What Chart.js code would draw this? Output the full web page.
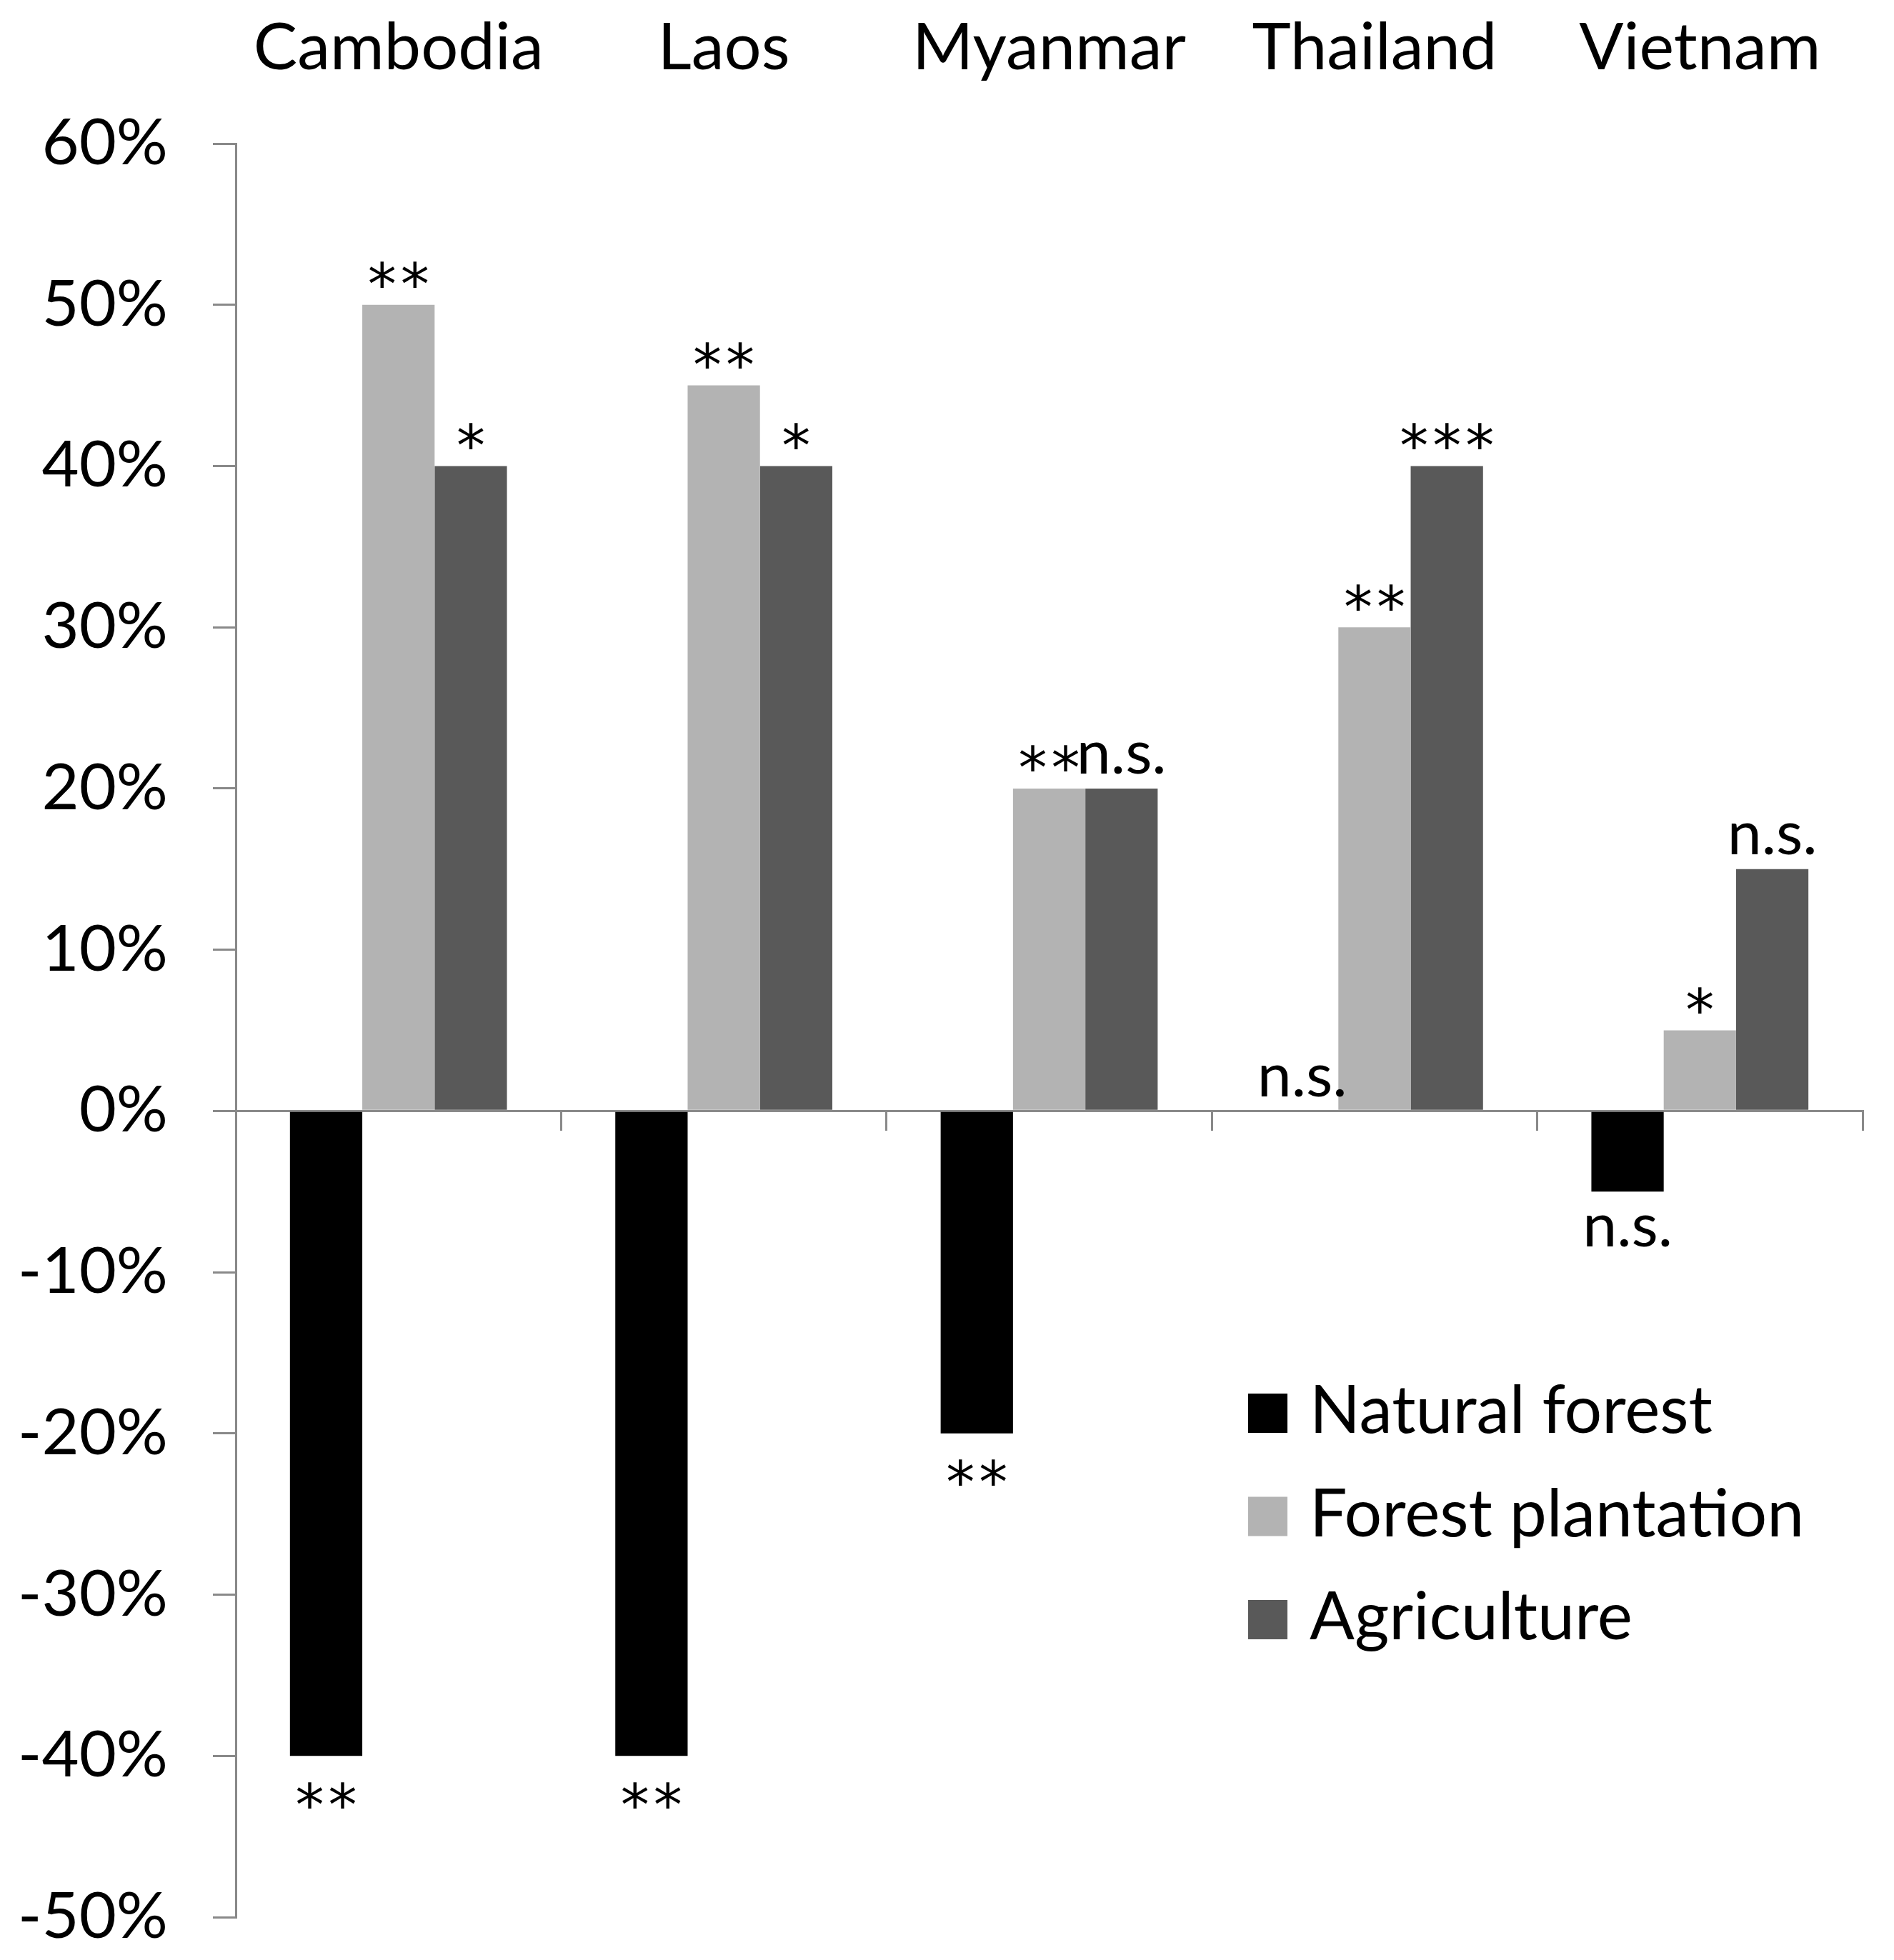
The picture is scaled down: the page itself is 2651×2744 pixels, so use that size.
<!DOCTYPE html>
<html>
<head>
<meta charset="utf-8">
<script src="https://cdn.jsdelivr.net/npm/chart.js@4.4.1/dist/chart.umd.min.js"></script>
<style>
html,body{margin:0;padding:0;background:#ffffff;}
#wrap{width:2651px;height:2744px;position:relative;}
</style>
</head>
<body>
<div id="wrap"><canvas id="c"></canvas></div>
<script>
// ---- data ----
const categories = ['Cambodia', 'Laos', 'Myanmar', 'Thailand', 'Vietnam'];
const seriesNames = ['Natural forest', 'Forest plantation', 'Agriculture'];
const naturalForest = [-40, -40, -20, 0, -5];
const forestPlantation = [50, 45, 20, 30, 5];
const agriculture = [40, 40, 20, 40, 15];
const sigNatural = ['**', '**', '**', 'n.s.', 'n.s.'];
const sigPlantation = ['**', '**', '**', '**', '*'];
const sigAgriculture = ['*', '*', 'n.s.', '***', 'n.s.'];
const yMin = -50, yMax = 60, yStep = 10;

// ---- styles ----
const FONT = 'Lato';
const STAR_FONT = '"DejaVu Sans"';
const AXIS_COLOR = '#898989';
const COLORS = ['#000000', '#b3b3b3', '#595959'];

const annotPlugin = {
  id: 'annot',
  afterDatasetsDraw(chart, args, opts) {
    const ctx = chart.ctx;
    ctx.save();
    ctx.fillStyle = '#000';
    ctx.textAlign = 'center';
    ctx.textBaseline = 'alphabetic';
    ctx.font = opts.size + 'px ' + FONT;
    const xh = ctx.measureText('x').actualBoundingBoxAscent;
    chart.data.datasets.forEach((ds, di) => {
      const meta = chart.getDatasetMeta(di);
      meta.data.forEach((bar, i) => {
        const text = ds.sig[i];
        const v = ds.data[i];
        const bandCenter = v >= 0 ? bar.y - opts.above : bar.y + opts.below;
        let y;
        if (/^\*+$/.test(text)) {
          ctx.font = opts.starSize + 'px ' + STAR_FONT;
          if ('letterSpacing' in ctx) ctx.letterSpacing = opts.starSpacing + 'px';
          const m = ctx.measureText(text);
          y = bandCenter + (m.actualBoundingBoxAscent - m.actualBoundingBoxDescent) / 2;
          ctx.fillText(text, bar.x + opts.starSpacing / 2, y);
          if ('letterSpacing' in ctx) ctx.letterSpacing = '0px';
        } else {
          ctx.font = opts.size + 'px ' + FONT;
          y = bandCenter + xh / 2;
          ctx.fillText(text, bar.x, y);
        }
      });
    });
    ctx.restore();
  }
};

const legendPlugin = {
  id: 'boxLegend',
  afterDraw(chart, args, opts) {
    const ctx = chart.ctx;
    ctx.save();
    ctx.font = opts.size + 'px ' + FONT;
    ctx.textAlign = 'left';
    ctx.textBaseline = 'alphabetic';
    chart.data.datasets.forEach((ds, i) => {
      const top = opts.top + i * opts.row;
      ctx.fillStyle = ds.backgroundColor;
      ctx.fillRect(opts.left, top, opts.box, opts.box);
      ctx.fillStyle = '#000';
      ctx.fillText(ds.label, opts.left + opts.box + opts.gap, top + opts.box);
    });
    ctx.restore();
  }
};

function draw() {
  new Chart(document.getElementById('c'), {
    type: 'bar',
    data: {
      labels: categories,
      datasets: [
        { label: seriesNames[0], data: naturalForest, backgroundColor: COLORS[0], sig: sigNatural },
        { label: seriesNames[1], data: forestPlantation, backgroundColor: COLORS[1], sig: sigPlantation },
        { label: seriesNames[2], data: agriculture, backgroundColor: COLORS[2], sig: sigAgriculture }
      ]
    },
    options: {
      responsive: true,
      maintainAspectRatio: false,
      animation: false,
      devicePixelRatio: 1,
      layout: { padding: { left: 0, right: 44, top: 0, bottom: 60 } },
      datasets: { bar: { categoryPercentage: 0.667, barPercentage: 1.0, borderWidth: 0 } },
      plugins: {
        legend: { display: false },
        tooltip: { enabled: false },
        annot: { size: 86, starSize: 80, starSpacing: 6, above: 42, below: 55 },
        boxLegend: { size: 93, left: 1747, top: 1951, box: 55, gap: 31, row: 144.5 }
      },
      scales: {
        x: {
          type: 'category',
          position: { y: 0 },
          offset: true,
          grid: { offset: true, drawOnChartArea: false, drawTicks: true, tickLength: 26, color: AXIS_COLOR, lineWidth: 3 },
          border: { color: AXIS_COLOR, width: 3 },
          ticks: { display: false },
          afterFit: s => { s.height = 0; }
        },
        x2: {
          type: 'category',
          position: 'top',
          labels: categories,
          offset: true,
          grid: { display: false, drawTicks: false },
          border: { display: false },
          ticks: { font: { family: FONT, size: 92 }, color: '#000', padding: 78, maxRotation: 0, autoSkip: false },
          afterFit: s => { s.height = 201; }
        },
        y: {
          min: yMin,
          max: yMax,
          ticks: { stepSize: yStep, callback: v => v + '%', font: { family: FONT, size: 90 }, color: '#000', padding: 63 },
          grid: { drawOnChartArea: false, drawTicks: true, tickLength: 32, color: AXIS_COLOR, lineWidth: 3 },
          border: { color: AXIS_COLOR, width: 3 },
          afterFit: s => { s.width = 330; s.paddingTop = 0; s.paddingBottom = 0; }
        }
      }
    },
    plugins: [annotPlugin, legendPlugin]
  });
}

if (document.fonts && document.fonts.load) {
  Promise.all([document.fonts.load('90px ' + FONT), document.fonts.load('80px ' + STAR_FONT)]).then(draw, draw);
} else {
  draw();
}
</script>
</body>
</html>
